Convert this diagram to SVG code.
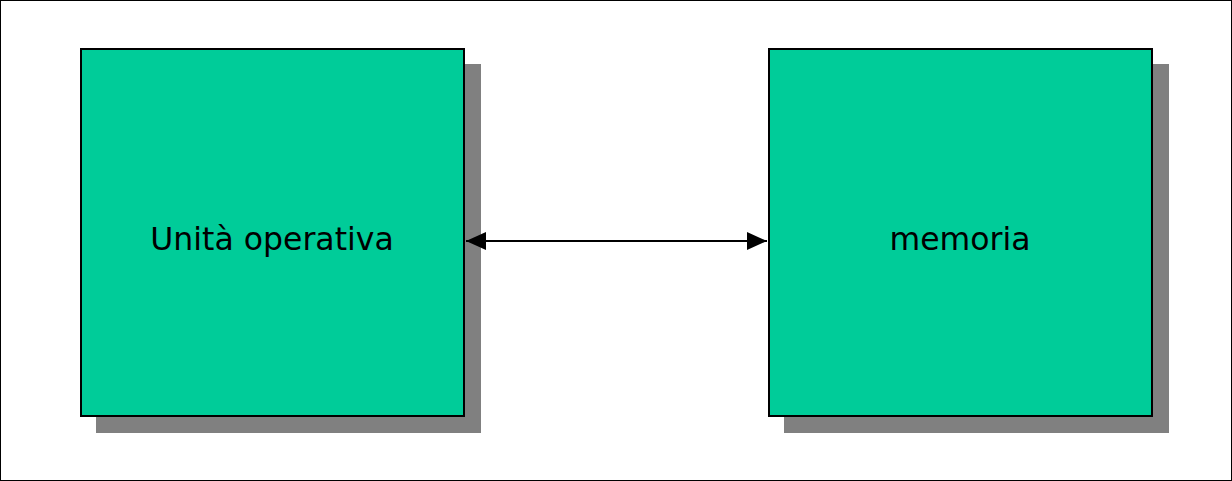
<svg xmlns="http://www.w3.org/2000/svg" width="1232" height="481" viewBox="0 0 1232 481">
<style>
.shadow{fill:#808080}
.box{fill:#00cc99;stroke:#000;stroke-width:2}
.lbl{font-family:"DejaVu Sans",Verdana,sans-serif;font-size:31.5px;fill:#000;text-anchor:middle}
.conn{stroke:#000;stroke-width:2;fill:none}
</style>
<defs>
<marker id="ah2" viewBox="0 0 20 18" refX="20" refY="9" markerWidth="20" markerHeight="18" markerUnits="userSpaceOnUse" orient="auto-start-reverse">
<path d="M0,0 L20,9 L0,18 Z" fill="#000"/>
</marker>
</defs>
<rect x="0.5" y="0.5" width="1231" height="480" fill="#fff" stroke="#000" stroke-width="1"/>
<g id="node-unita">
<rect class="shadow" x="96" y="64" width="385" height="369"/>
<rect class="box" x="81" y="49" width="383" height="367"/>
<text class="lbl" x="272" y="250">Unità operativa</text>
</g>
<g id="node-memoria">
<rect class="shadow" x="784" y="64" width="385" height="369"/>
<rect class="box" x="769" y="49" width="383" height="367"/>
<text class="lbl" x="960" y="250">memoria</text>
</g>
<g id="connectors">
<line class="conn" x1="466" y1="241" x2="767" y2="241" marker-start="url(#ah2)" marker-end="url(#ah2)"/>
</g>
</svg>
